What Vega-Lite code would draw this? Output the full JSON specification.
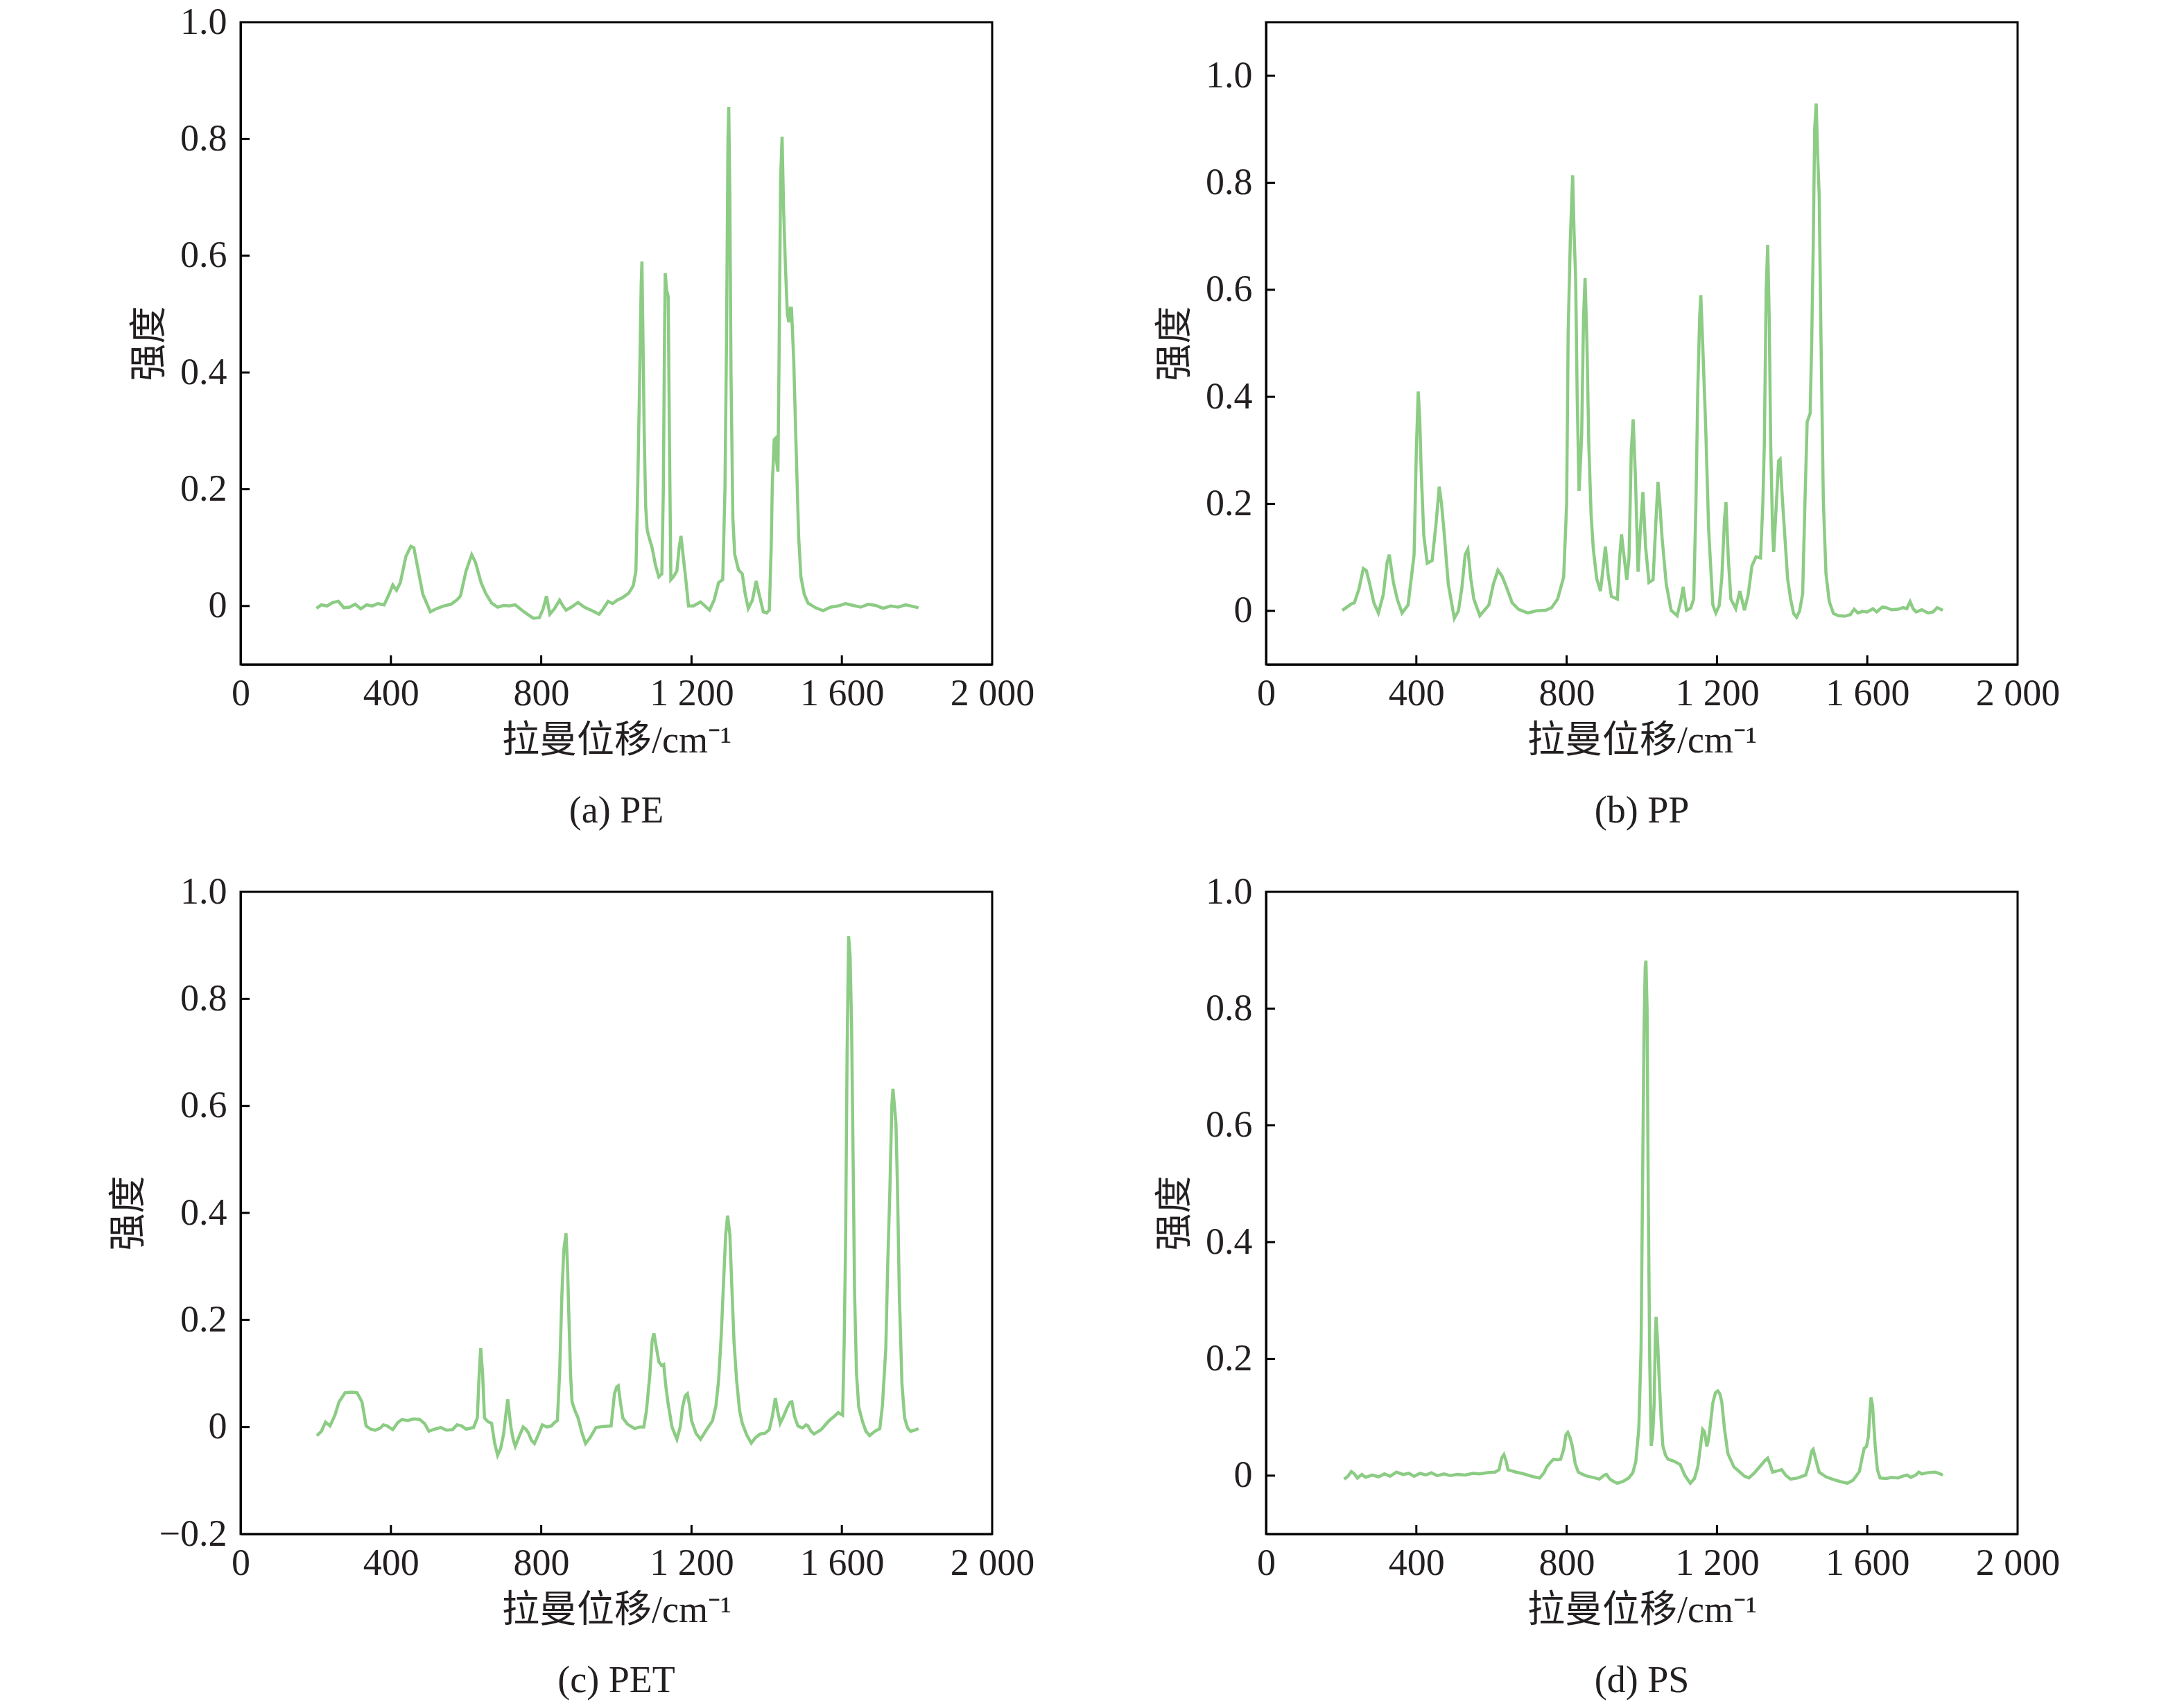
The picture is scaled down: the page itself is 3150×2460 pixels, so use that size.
{
  "$schema": "https://vega.github.io/schema/vega-lite/v6.json",
  "padding": {"left": 157, "top": 3, "right": 20, "bottom": 10},
  "background": "white",
  "config": {
    "font": "Liberation Serif, Noto Sans CJK SC",
    "view": {"stroke": "black", "strokeWidth": 3},
    "axis": {
      "grid": false,
      "ticks": false,
      "labelFlush": false,
      "labelOverlap": false,
      "domainColor": "black",
      "domainWidth": 3,
      "labelFont": "Liberation Serif",
      "labelFontSize": 54,
      "labelColor": "#231f20",
      "titleFont": "Liberation Serif, Noto Sans CJK SC",
      "titleFontSize": 54,
      "titleFontWeight": "normal",
      "titleColor": "#231f20"
    },
    "axisX": {"labelPadding": 15, "titlePadding": 14},
    "axisY": {"labelPadding": 20, "titlePadding": 16},
    "title": {"orient": "bottom", "fontSize": 54, "fontWeight": "normal", "font": "Liberation Serif", "color": "#231f20", "offset": 48},
    "line": {"color": "#8ccc84", "strokeWidth": 4.5},
    "rule": {"color": "black", "strokeWidth": 3}
  },
  "datasets": {
    "xticks": [{"v": 400}, {"v": 800}, {"v": 1200}, {"v": 1600}],
    "yticks": [{"v": 0}, {"v": 0.2}, {"v": 0.4}, {"v": 0.6}, {"v": 0.8}],
    "yticks_pp": [{"v": 0}, {"v": 0.2}, {"v": 0.4}, {"v": 0.6}, {"v": 0.8}, {"v": 1.0}],
    "pe": [
      {"x":202,"y":-0.004},{"x":215,"y":0.002},{"x":230,"y":0.0},{"x":245,"y":0.006},{"x":260,"y":0.008},{"x":275,"y":-0.003},{"x":290,"y":-0.002},{"x":305,"y":0.003},{"x":320,"y":-0.005},{"x":335,"y":0.002},{"x":350,"y":0.0},{"x":365,"y":0.004},{"x":382,"y":0.002},{"x":395,"y":0.02},{"x":405,"y":0.036},{"x":415,"y":0.027},{"x":425,"y":0.04},{"x":440,"y":0.085},{"x":453,"y":0.102},{"x":461,"y":0.1},{"x":470,"y":0.07},{"x":485,"y":0.02},{"x":505,"y":-0.01},{"x":520,"y":-0.005},{"x":540,"y":0.0},{"x":560,"y":0.003},{"x":575,"y":0.01},{"x":585,"y":0.017},{"x":600,"y":0.06},{"x":615,"y":0.088},{"x":625,"y":0.075},{"x":640,"y":0.04},{"x":652,"y":0.022},{"x":668,"y":0.005},{"x":684,"y":-0.002},{"x":700,"y":0.001},{"x":715,"y":0.0},{"x":731,"y":0.002},{"x":750,"y":-0.008},{"x":765,"y":-0.015},{"x":779,"y":-0.021},{"x":795,"y":-0.02},{"x":805,"y":-0.005},{"x":814,"y":0.017},{"x":823,"y":-0.014},{"x":835,"y":-0.005},{"x":849,"y":0.01},{"x":858,"y":0.0},{"x":866,"y":-0.007},{"x":880,"y":-0.002},{"x":898,"y":0.006},{"x":915,"y":-0.002},{"x":935,"y":-0.008},{"x":954,"y":-0.014},{"x":965,"y":-0.005},{"x":978,"y":0.008},{"x":990,"y":0.004},{"x":1002,"y":0.01},{"x":1018,"y":0.015},{"x":1033,"y":0.022},{"x":1045,"y":0.035},{"x":1052,"y":0.06},{"x":1057,"y":0.21},{"x":1062,"y":0.39},{"x":1066,"y":0.55},{"x":1068,"y":0.59},{"x":1071,"y":0.45},{"x":1074,"y":0.3},{"x":1078,"y":0.17},{"x":1082,"y":0.13},{"x":1088,"y":0.115},{"x":1095,"y":0.1},{"x":1104,"y":0.07},{"x":1113,"y":0.05},{"x":1121,"y":0.055},{"x":1125,"y":0.2},{"x":1128,"y":0.45},{"x":1130,"y":0.57},{"x":1134,"y":0.54},{"x":1138,"y":0.53},{"x":1141,"y":0.3},{"x":1145,"y":0.045},{"x":1152,"y":0.05},{"x":1161,"y":0.06},{"x":1167,"y":0.1},{"x":1172,"y":0.12},{"x":1177,"y":0.09},{"x":1184,"y":0.05},{"x":1192,"y":0.0},{"x":1205,"y":0.0},{"x":1224,"y":0.007},{"x":1236,"y":0.0},{"x":1248,"y":-0.007},{"x":1260,"y":0.01},{"x":1272,"y":0.04},{"x":1283,"y":0.045},{"x":1289,"y":0.2},{"x":1293,"y":0.45},{"x":1297,"y":0.8},{"x":1299,"y":0.855},{"x":1302,"y":0.7},{"x":1305,"y":0.4},{"x":1310,"y":0.15},{"x":1315,"y":0.088},{"x":1325,"y":0.062},{"x":1335,"y":0.055},{"x":1343,"y":0.02},{"x":1351,"y":-0.004},{"x":1362,"y":0.01},{"x":1372,"y":0.043},{"x":1380,"y":0.02},{"x":1391,"y":-0.01},{"x":1400,"y":-0.012},{"x":1407,"y":-0.007},{"x":1412,"y":0.1},{"x":1415,"y":0.21},{"x":1420,"y":0.285},{"x":1423,"y":0.287},{"x":1426,"y":0.25},{"x":1430,"y":0.23},{"x":1433,"y":0.43},{"x":1437,"y":0.73},{"x":1441,"y":0.804},{"x":1445,"y":0.68},{"x":1450,"y":0.58},{"x":1455,"y":0.5},{"x":1459,"y":0.486},{"x":1463,"y":0.51},{"x":1466,"y":0.51},{"x":1472,"y":0.42},{"x":1478,"y":0.278},{"x":1485,"y":0.12},{"x":1491,"y":0.05},{"x":1500,"y":0.02},{"x":1510,"y":0.005},{"x":1530,"y":-0.003},{"x":1550,"y":-0.008},{"x":1570,"y":-0.002},{"x":1590,"y":0.0},{"x":1610,"y":0.004},{"x":1630,"y":0.001},{"x":1650,"y":-0.002},{"x":1670,"y":0.003},{"x":1690,"y":0.001},{"x":1710,"y":-0.004},{"x":1730,"y":0.0},{"x":1750,"y":-0.002},{"x":1770,"y":0.002},{"x":1790,"y":-0.001},{"x":1804,"y":-0.003}
    ],
    "pp": [
      {"x":203,"y":0.001},{"x":227,"y":0.013},{"x":235,"y":0.015},{"x":247,"y":0.04},{"x":259,"y":0.079},{"x":267,"y":0.075},{"x":275,"y":0.053},{"x":287,"y":0.015},{"x":299,"y":-0.004},{"x":312,"y":0.03},{"x":322,"y":0.09},{"x":328,"y":0.105},{"x":339,"y":0.053},{"x":350,"y":0.02},{"x":362,"y":-0.004},{"x":378,"y":0.011},{"x":394,"y":0.105},{"x":400,"y":0.3},{"x":405,"y":0.41},{"x":409,"y":0.36},{"x":413,"y":0.26},{"x":420,"y":0.14},{"x":429,"y":0.089},{"x":442,"y":0.094},{"x":452,"y":0.16},{"x":461,"y":0.232},{"x":467,"y":0.2},{"x":474,"y":0.146},{"x":485,"y":0.05},{"x":501,"y":-0.014},{"x":512,"y":0.0},{"x":521,"y":0.042},{"x":530,"y":0.105},{"x":537,"y":0.115},{"x":545,"y":0.06},{"x":553,"y":0.022},{"x":569,"y":-0.009},{"x":593,"y":0.011},{"x":605,"y":0.05},{"x":617,"y":0.076},{"x":628,"y":0.065},{"x":641,"y":0.042},{"x":655,"y":0.015},{"x":672,"y":0.003},{"x":696,"y":-0.004},{"x":720,"y":0.0},{"x":744,"y":0.001},{"x":760,"y":0.006},{"x":776,"y":0.022},{"x":792,"y":0.063},{"x":800,"y":0.2},{"x":804,"y":0.52},{"x":810,"y":0.7},{"x":816,"y":0.814},{"x":820,"y":0.7},{"x":824,"y":0.62},{"x":828,"y":0.4},{"x":833,"y":0.224},{"x":837,"y":0.28},{"x":840,"y":0.33},{"x":845,"y":0.55},{"x":849,"y":0.622},{"x":854,"y":0.5},{"x":859,"y":0.31},{"x":865,"y":0.18},{"x":871,"y":0.115},{"x":880,"y":0.06},{"x":890,"y":0.037},{"x":897,"y":0.08},{"x":903,"y":0.12},{"x":910,"y":0.07},{"x":919,"y":0.027},{"x":935,"y":0.022},{"x":941,"y":0.1},{"x":946,"y":0.143},{"x":953,"y":0.1},{"x":960,"y":0.058},{"x":966,"y":0.1},{"x":972,"y":0.3},{"x":977,"y":0.358},{"x":983,"y":0.25},{"x":990,"y":0.073},{"x":996,"y":0.15},{"x":1003,"y":0.222},{"x":1010,"y":0.12},{"x":1019,"y":0.053},{"x":1030,"y":0.058},{"x":1037,"y":0.16},{"x":1043,"y":0.241},{"x":1048,"y":0.2},{"x":1054,"y":0.136},{"x":1065,"y":0.05},{"x":1078,"y":0.001},{"x":1094,"y":-0.009},{"x":1104,"y":0.02},{"x":1110,"y":0.045},{"x":1119,"y":0.001},{"x":1130,"y":0.005},{"x":1138,"y":0.022},{"x":1144,"y":0.2},{"x":1149,"y":0.415},{"x":1154,"y":0.55},{"x":1157,"y":0.59},{"x":1162,"y":0.5},{"x":1170,"y":0.343},{"x":1178,"y":0.15},{"x":1189,"y":0.011},{"x":1197,"y":-0.004},{"x":1206,"y":0.01},{"x":1213,"y":0.063},{"x":1220,"y":0.17},{"x":1224,"y":0.203},{"x":1230,"y":0.1},{"x":1237,"y":0.022},{"x":1250,"y":0.004},{"x":1261,"y":0.037},{"x":1273,"y":0.001},{"x":1283,"y":0.03},{"x":1293,"y":0.084},{"x":1304,"y":0.101},{"x":1316,"y":0.099},{"x":1322,"y":0.2},{"x":1326,"y":0.31},{"x":1331,"y":0.6},{"x":1335,"y":0.684},{"x":1339,"y":0.55},{"x":1343,"y":0.31},{"x":1348,"y":0.15},{"x":1351,"y":0.11},{"x":1358,"y":0.2},{"x":1364,"y":0.28},{"x":1368,"y":0.283},{"x":1374,"y":0.21},{"x":1380,"y":0.146},{"x":1388,"y":0.06},{"x":1396,"y":0.022},{"x":1404,"y":-0.005},{"x":1412,"y":-0.012},{"x":1420,"y":0.0},{"x":1428,"y":0.032},{"x":1434,"y":0.2},{"x":1440,"y":0.353},{"x":1448,"y":0.369},{"x":1452,"y":0.5},{"x":1456,"y":0.674},{"x":1460,"y":0.9},{"x":1464,"y":0.948},{"x":1468,"y":0.85},{"x":1472,"y":0.777},{"x":1477,"y":0.5},{"x":1483,"y":0.208},{"x":1490,"y":0.07},{"x":1499,"y":0.017},{"x":1510,"y":-0.005},{"x":1523,"y":-0.009},{"x":1540,"y":-0.01},{"x":1555,"y":-0.007},{"x":1565,"y":0.003},{"x":1575,"y":-0.004},{"x":1587,"y":-0.001},{"x":1600,"y":-0.002},{"x":1615,"y":0.004},{"x":1625,"y":-0.002},{"x":1640,"y":0.007},{"x":1650,"y":0.006},{"x":1665,"y":0.002},{"x":1682,"y":0.003},{"x":1695,"y":0.006},{"x":1705,"y":0.004},{"x":1714,"y":0.017},{"x":1722,"y":0.004},{"x":1730,"y":-0.002},{"x":1745,"y":0.002},{"x":1762,"y":-0.004},{"x":1775,"y":-0.002},{"x":1786,"y":0.006},{"x":1801,"y":0.001}
    ],
    "pet": [
      {"x":203,"y":-0.016},{"x":215,"y":-0.008},{"x":226,"y":0.009},{"x":238,"y":0.002},{"x":251,"y":0.022},{"x":262,"y":0.047},{"x":278,"y":0.064},{"x":295,"y":0.065},{"x":310,"y":0.064},{"x":323,"y":0.047},{"x":334,"y":0.002},{"x":346,"y":-0.004},{"x":358,"y":-0.006},{"x":372,"y":-0.002},{"x":380,"y":0.004},{"x":390,"y":0.002},{"x":405,"y":-0.005},{"x":418,"y":0.008},{"x":429,"y":0.014},{"x":445,"y":0.012},{"x":460,"y":0.015},{"x":477,"y":0.014},{"x":490,"y":0.006},{"x":501,"y":-0.008},{"x":517,"y":-0.004},{"x":533,"y":-0.001},{"x":548,"y":-0.006},{"x":564,"y":-0.005},{"x":576,"y":0.004},{"x":588,"y":0.002},{"x":600,"y":-0.004},{"x":620,"y":-0.001},{"x":630,"y":0.017},{"x":635,"y":0.1},{"x":639,"y":0.147},{"x":644,"y":0.1},{"x":649,"y":0.017},{"x":658,"y":0.01},{"x":668,"y":0.007},{"x":676,"y":-0.03},{"x":684,"y":-0.053},{"x":692,"y":-0.04},{"x":700,"y":-0.013},{"x":707,"y":0.03},{"x":711,"y":0.052},{"x":716,"y":0.02},{"x":720,"y":-0.003},{"x":726,"y":-0.025},{"x":731,"y":-0.036},{"x":740,"y":-0.02},{"x":752,"y":0.0},{"x":759,"y":-0.004},{"x":766,"y":-0.011},{"x":774,"y":-0.025},{"x":782,"y":-0.031},{"x":792,"y":-0.015},{"x":803,"y":0.004},{"x":815,"y":0.0},{"x":827,"y":0.002},{"x":835,"y":0.008},{"x":843,"y":0.012},{"x":849,"y":0.1},{"x":855,"y":0.247},{"x":860,"y":0.33},{"x":866,"y":0.362},{"x":870,"y":0.3},{"x":874,"y":0.197},{"x":878,"y":0.1},{"x":882,"y":0.047},{"x":890,"y":0.03},{"x":898,"y":0.017},{"x":908,"y":-0.01},{"x":918,"y":-0.031},{"x":930,"y":-0.02},{"x":946,"y":-0.001},{"x":965,"y":0.001},{"x":986,"y":0.002},{"x":995,"y":0.062},{"x":1001,"y":0.075},{"x":1005,"y":0.077},{"x":1010,"y":0.05},{"x":1017,"y":0.017},{"x":1030,"y":0.005},{"x":1049,"y":-0.003},{"x":1062,"y":0.0},{"x":1073,"y":0.0},{"x":1080,"y":0.03},{"x":1089,"y":0.097},{"x":1095,"y":0.16},{"x":1100,"y":0.175},{"x":1106,"y":0.15},{"x":1113,"y":0.122},{"x":1120,"y":0.115},{"x":1126,"y":0.117},{"x":1131,"y":0.08},{"x":1137,"y":0.047},{"x":1148,"y":0.0},{"x":1161,"y":-0.023},{"x":1170,"y":0.0},{"x":1176,"y":0.037},{"x":1183,"y":0.058},{"x":1189,"y":0.062},{"x":1195,"y":0.04},{"x":1200,"y":0.012},{"x":1212,"y":-0.012},{"x":1224,"y":-0.023},{"x":1240,"y":-0.005},{"x":1256,"y":0.012},{"x":1265,"y":0.04},{"x":1272,"y":0.087},{"x":1279,"y":0.17},{"x":1285,"y":0.267},{"x":1291,"y":0.36},{"x":1296,"y":0.395},{"x":1302,"y":0.36},{"x":1307,"y":0.267},{"x":1313,"y":0.16},{"x":1320,"y":0.087},{"x":1328,"y":0.03},{"x":1335,"y":0.007},{"x":1347,"y":-0.015},{"x":1359,"y":-0.03},{"x":1370,"y":-0.02},{"x":1383,"y":-0.013},{"x":1395,"y":-0.012},{"x":1407,"y":-0.005},{"x":1415,"y":0.02},{"x":1423,"y":0.054},{"x":1429,"y":0.03},{"x":1436,"y":0.007},{"x":1445,"y":0.02},{"x":1455,"y":0.037},{"x":1462,"y":0.046},{"x":1467,"y":0.047},{"x":1474,"y":0.02},{"x":1483,"y":0.002},{"x":1495,"y":-0.002},{"x":1505,"y":0.004},{"x":1510,"y":0.002},{"x":1518,"y":-0.008},{"x":1526,"y":-0.013},{"x":1545,"y":-0.005},{"x":1566,"y":0.012},{"x":1580,"y":0.02},{"x":1590,"y":0.027},{"x":1602,"y":0.022},{"x":1606,"y":0.15},{"x":1610,"y":0.347},{"x":1614,"y":0.7},{"x":1618,"y":0.917},{"x":1622,"y":0.88},{"x":1626,"y":0.747},{"x":1630,"y":0.5},{"x":1634,"y":0.247},{"x":1639,"y":0.1},{"x":1645,"y":0.037},{"x":1655,"y":0.01},{"x":1664,"y":-0.008},{"x":1674,"y":-0.016},{"x":1688,"y":-0.008},{"x":1701,"y":-0.003},{"x":1708,"y":0.04},{"x":1717,"y":0.147},{"x":1722,"y":0.3},{"x":1728,"y":0.447},{"x":1733,"y":0.6},{"x":1736,"y":0.632},{"x":1740,"y":0.6},{"x":1744,"y":0.567},{"x":1748,"y":0.45},{"x":1753,"y":0.247},{"x":1760,"y":0.08},{"x":1767,"y":0.017},{"x":1775,"y":-0.002},{"x":1783,"y":-0.008},{"x":1793,"y":-0.006},{"x":1804,"y":-0.003}
    ],
    "ps": [
      {"x":208,"y":-0.006},{"x":218,"y":-0.001},{"x":227,"y":0.007},{"x":235,"y":0.003},{"x":243,"y":-0.004},{"x":255,"y":0.002},{"x":265,"y":-0.003},{"x":283,"y":0.001},{"x":300,"y":-0.002},{"x":315,"y":0.003},{"x":330,"y":-0.001},{"x":347,"y":0.006},{"x":365,"y":0.002},{"x":380,"y":0.004},{"x":394,"y":-0.001},{"x":410,"y":0.004},{"x":425,"y":0.001},{"x":440,"y":0.005},{"x":455,"y":0.0},{"x":474,"y":0.003},{"x":490,"y":0.0},{"x":510,"y":0.002},{"x":530,"y":0.001},{"x":550,"y":0.004},{"x":569,"y":0.003},{"x":590,"y":0.005},{"x":609,"y":0.006},{"x":620,"y":0.01},{"x":627,"y":0.03},{"x":633,"y":0.036},{"x":639,"y":0.025},{"x":644,"y":0.01},{"x":655,"y":0.008},{"x":665,"y":0.006},{"x":680,"y":0.004},{"x":696,"y":0.001},{"x":712,"y":-0.002},{"x":728,"y":-0.004},{"x":740,"y":0.005},{"x":747,"y":0.015},{"x":756,"y":0.022},{"x":765,"y":0.028},{"x":775,"y":0.027},{"x":784,"y":0.028},{"x":792,"y":0.045},{"x":798,"y":0.07},{"x":803,"y":0.074},{"x":809,"y":0.065},{"x":815,"y":0.051},{"x":823,"y":0.02},{"x":831,"y":0.006},{"x":843,"y":0.002},{"x":855,"y":-0.001},{"x":870,"y":-0.003},{"x":887,"y":-0.006},{"x":900,"y":0.001},{"x":906,"y":0.002},{"x":915,"y":-0.006},{"x":925,"y":-0.01},{"x":935,"y":-0.013},{"x":950,"y":-0.01},{"x":965,"y":-0.004},{"x":976,"y":0.005},{"x":984,"y":0.024},{"x":992,"y":0.08},{"x":998,"y":0.217},{"x":1002,"y":0.5},{"x":1006,"y":0.767},{"x":1009,"y":0.87},{"x":1011,"y":0.882},{"x":1014,"y":0.8},{"x":1017,"y":0.492},{"x":1021,"y":0.2},{"x":1025,"y":0.051},{"x":1029,"y":0.07},{"x":1033,"y":0.125},{"x":1036,"y":0.24},{"x":1038,"y":0.272},{"x":1042,"y":0.23},{"x":1046,"y":0.171},{"x":1051,"y":0.1},{"x":1056,"y":0.051},{"x":1063,"y":0.035},{"x":1070,"y":0.028},{"x":1085,"y":0.025},{"x":1102,"y":0.019},{"x":1115,"y":0.0},{"x":1129,"y":-0.013},{"x":1140,"y":-0.005},{"x":1149,"y":0.015},{"x":1156,"y":0.05},{"x":1162,"y":0.079},{"x":1167,"y":0.075},{"x":1173,"y":0.05},{"x":1177,"y":0.06},{"x":1181,"y":0.079},{"x":1189,"y":0.125},{"x":1196,"y":0.142},{"x":1202,"y":0.145},{"x":1208,"y":0.14},{"x":1213,"y":0.125},{"x":1220,"y":0.08},{"x":1229,"y":0.038},{"x":1245,"y":0.015},{"x":1261,"y":0.006},{"x":1273,"y":-0.001},{"x":1285,"y":-0.004},{"x":1300,"y":0.005},{"x":1316,"y":0.017},{"x":1328,"y":0.026},{"x":1335,"y":0.03},{"x":1341,"y":0.02},{"x":1348,"y":0.006},{"x":1360,"y":0.008},{"x":1372,"y":0.01},{"x":1384,"y":0.0},{"x":1396,"y":-0.006},{"x":1415,"y":-0.004},{"x":1436,"y":0.001},{"x":1445,"y":0.02},{"x":1452,"y":0.042},{"x":1456,"y":0.045},{"x":1462,"y":0.03},{"x":1472,"y":0.006},{"x":1490,"y":-0.002},{"x":1507,"y":-0.006},{"x":1527,"y":-0.01},{"x":1547,"y":-0.013},{"x":1562,"y":-0.008},{"x":1579,"y":0.007},{"x":1586,"y":0.03},{"x":1592,"y":0.047},{"x":1598,"y":0.05},{"x":1603,"y":0.067},{"x":1607,"y":0.11},{"x":1610,"y":0.134},{"x":1614,"y":0.12},{"x":1621,"y":0.051},{"x":1627,"y":0.01},{"x":1634,"y":-0.004},{"x":1650,"y":-0.005},{"x":1665,"y":-0.003},{"x":1682,"y":-0.004},{"x":1694,"y":-0.001},{"x":1706,"y":0.001},{"x":1716,"y":-0.003},{"x":1729,"y":0.001},{"x":1737,"y":0.006},{"x":1745,"y":0.003},{"x":1760,"y":0.005},{"x":1780,"y":0.006},{"x":1790,"y":0.004},{"x":1801,"y":0.001}
    ]
  },
  "columns": 2,
  "bounds": "flush",
  "spacing": {"row": 328, "column": 395},
  "concat": [
    {
      "title": "(a) PE",
      "width": 1084,
      "height": 926,
      "layer": [
        {
          "data": {"name": "pe"},
          "mark": "line",
          "encoding": {
            "x": {"field": "x", "type": "quantitative", "scale": {"domain": [0, 2000], "nice": false},
              "axis": {"title": "拉曼位移/cm⁻¹", "values": [0, 400, 800, 1200, 1600, 2000], "labelExpr": "replace(format(datum.value, ','), ',', ' ')"}},
            "y": {"field": "y", "type": "quantitative", "scale": {"domain": [-0.1, 1.0], "nice": false, "zero": false},
              "axis": {"title": "强度", "values": [0, 0.2, 0.4, 0.6, 0.8, 1.0], "labelExpr": "datum.value == 0 ? '0' : format(datum.value, '.1f')"}}
          }
        },
        {
          "data": {"name": "xticks"},
          "mark": "rule",
          "encoding": {"x": {"field": "v", "type": "quantitative"}, "y": {"datum": -0.1}, "y2": {"datum": -0.0846}}
        },
        {
          "data": {"name": "yticks"},
          "mark": "rule",
          "encoding": {"y": {"field": "v", "type": "quantitative"}, "x": {"datum": 0}, "x2": {"datum": 24}}
        }
      ]
    },
    {
      "title": "(b) PP",
      "width": 1084,
      "height": 926,
      "layer": [
        {
          "data": {"name": "pp"},
          "mark": "line",
          "encoding": {
            "x": {"field": "x", "type": "quantitative", "scale": {"domain": [0, 2000], "nice": false},
              "axis": {"title": "拉曼位移/cm⁻¹", "values": [0, 400, 800, 1200, 1600, 2000], "labelExpr": "replace(format(datum.value, ','), ',', ' ')"}},
            "y": {"field": "y", "type": "quantitative", "scale": {"domain": [-0.1, 1.1], "nice": false, "zero": false},
              "axis": {"title": "强度", "values": [0, 0.2, 0.4, 0.6, 0.8, 1.0], "labelExpr": "datum.value == 0 ? '0' : format(datum.value, '.1f')"}}
          }
        },
        {
          "data": {"name": "xticks"},
          "mark": "rule",
          "encoding": {"x": {"field": "v", "type": "quantitative"}, "y": {"datum": -0.1}, "y2": {"datum": -0.0832}}
        },
        {
          "data": {"name": "yticks_pp"},
          "mark": "rule",
          "encoding": {"y": {"field": "v", "type": "quantitative"}, "x": {"datum": 0}, "x2": {"datum": 24}}
        }
      ]
    },
    {
      "title": "(c) PET",
      "width": 1084,
      "height": 926,
      "layer": [
        {
          "data": {"name": "pet"},
          "mark": "line",
          "encoding": {
            "x": {"field": "x", "type": "quantitative", "scale": {"domain": [0, 2000], "nice": false},
              "axis": {"title": "拉曼位移/cm⁻¹", "values": [0, 400, 800, 1200, 1600, 2000], "labelExpr": "replace(format(datum.value, ','), ',', ' ')"}},
            "y": {"field": "y", "type": "quantitative", "scale": {"domain": [-0.2, 1.0], "nice": false, "zero": false},
              "axis": {"title": "强度", "values": [-0.2, 0, 0.2, 0.4, 0.6, 0.8, 1.0], "labelExpr": "datum.value == 0 ? '0' : format(datum.value, '.1f')"}}
          }
        },
        {
          "data": {"name": "xticks"},
          "mark": "rule",
          "encoding": {"x": {"field": "v", "type": "quantitative"}, "y": {"datum": -0.2}, "y2": {"datum": -0.1832}}
        },
        {
          "data": {"name": "yticks"},
          "mark": "rule",
          "encoding": {"y": {"field": "v", "type": "quantitative"}, "x": {"datum": 0}, "x2": {"datum": 24}}
        }
      ]
    },
    {
      "title": "(d) PS",
      "width": 1084,
      "height": 926,
      "layer": [
        {
          "data": {"name": "ps"},
          "mark": "line",
          "encoding": {
            "x": {"field": "x", "type": "quantitative", "scale": {"domain": [0, 2000], "nice": false},
              "axis": {"title": "拉曼位移/cm⁻¹", "values": [0, 400, 800, 1200, 1600, 2000], "labelExpr": "replace(format(datum.value, ','), ',', ' ')"}},
            "y": {"field": "y", "type": "quantitative", "scale": {"domain": [-0.1, 1.0], "nice": false, "zero": false},
              "axis": {"title": "强度", "values": [0, 0.2, 0.4, 0.6, 0.8, 1.0], "labelExpr": "datum.value == 0 ? '0' : format(datum.value, '.1f')"}}
          }
        },
        {
          "data": {"name": "xticks"},
          "mark": "rule",
          "encoding": {"x": {"field": "v", "type": "quantitative"}, "y": {"datum": -0.1}, "y2": {"datum": -0.0846}}
        },
        {
          "data": {"name": "yticks"},
          "mark": "rule",
          "encoding": {"y": {"field": "v", "type": "quantitative"}, "x": {"datum": 0}, "x2": {"datum": 24}}
        }
      ]
    }
  ]
}
